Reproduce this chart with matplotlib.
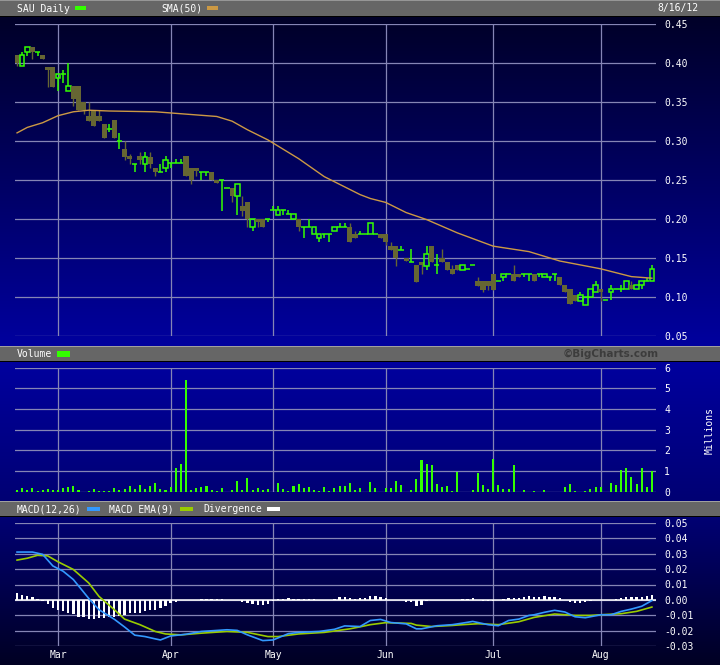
import matplotlib
matplotlib.use("Agg")
import matplotlib.pyplot as plt
from matplotlib.patches import Rectangle
import numpy as np

# --- data (one entry per trading day, Feb 17 .. Aug 15/16 2012) ---
month_labels = ['Mar', 'Apr', 'May', 'Jun', 'Jul', 'Aug']
month_idx = [8, 30, 50, 72, 93, 114]

opens = [
    .410, .395, .414, .420, .414, .410, .394, .394, .380, .385,
    .364, .370, .370, .350, .331, .339, .331, .321, .315, .326,
    .300, .290, .281, .270, .281, .270, .279, .265, .260, .265,
    .271, .271, .271, .280, .265, .265, .260, .260, .260, .250,
    .250, .240, .240, .229, .216, .221, .190, .200, .200, .200,
    .211, .205, .211, .206, .200, .200, .190, .190, .180, .175,
    .180, .180, .184, .190, .190, .190, .180, .180, .180, .180,
    .180, .180, .180, .165, .165, .160, .150, .145, .141, .145,
    .140, .165, .141, .150, .145, .136, .141, .135, .136, .141,
    .121, .121, .121, .130, .120, .125, .130, .130, .130, .130,
    .130, .130, .130, .125, .125, .130, .125, .115, .110, .102,
    .095, .090, .100, .106, .110, .096, .106, .110, .110, .110,
    .115, .110, .115, .120, .120]
highs = [
    .410, .414, .420, .420, .414, .410, .394, .394, .385, .391,
    .400, .370, .370, .350, .350, .339, .339, .321, .321, .326,
    .310, .300, .283, .270, .285, .285, .285, .265, .270, .281,
    .271, .276, .276, .280, .265, .265, .260, .260, .260, .250,
    .250, .240, .240, .245, .229, .221, .200, .200, .200, .200,
    .216, .216, .211, .211, .206, .200, .190, .200, .190, .180,
    .180, .180, .190, .195, .195, .195, .184, .184, .180, .195,
    .180, .180, .180, .170, .165, .165, .150, .161, .141, .145,
    .165, .165, .155, .161, .145, .141, .141, .141, .136, .141,
    .125, .121, .121, .130, .120, .130, .130, .141, .130, .130,
    .130, .130, .130, .130, .125, .130, .125, .115, .110, .102,
    .106, .100, .110, .121, .110, .096, .115, .110, .115, .120,
    .120, .115, .120, .124, .141]
lows = [
    .395, .395, .409, .404, .409, .404, .369, .369, .364, .374,
    .364, .344, .339, .334, .325, .319, .325, .304, .311, .304,
    .289, .275, .270, .260, .270, .260, .265, .255, .260, .260,
    .265, .271, .271, .255, .244, .255, .250, .255, .250, .246,
    .210, .240, .221, .205, .203, .190, .184, .190, .190, .196,
    .211, .205, .205, .206, .200, .184, .175, .190, .180, .170,
    .175, .170, .184, .190, .190, .170, .175, .180, .180, .180,
    .180, .175, .166, .160, .140, .160, .146, .145, .119, .129,
    .135, .145, .129, .145, .135, .129, .135, .135, .136, .141,
    .114, .106, .109, .109, .120, .120, .130, .120, .125, .125,
    .120, .120, .125, .125, .120, .120, .115, .106, .091, .095,
    .095, .090, .100, .106, .095, .096, .096, .110, .106, .110,
    .110, .110, .110, .120, .120]
closes = [
    .400, .410, .420, .414, .414, .404, .390, .369, .385, .385,
    .370, .354, .339, .339, .325, .319, .325, .304, .315, .304,
    .300, .279, .277, .270, .275, .279, .270, .260, .260, .275,
    .271, .271, .271, .255, .250, .261, .260, .260, .250, .246,
    .250, .240, .229, .245, .210, .200, .200, .196, .190, .200,
    .211, .211, .211, .206, .206, .190, .190, .190, .190, .180,
    .180, .180, .190, .190, .190, .170, .175, .180, .180, .195,
    .180, .175, .170, .160, .150, .160, .146, .145, .119, .141,
    .155, .145, .141, .145, .135, .129, .135, .141, .136, .141,
    .114, .109, .114, .109, .120, .130, .130, .120, .125, .130,
    .130, .120, .130, .130, .125, .130, .115, .106, .091, .095,
    .102, .100, .110, .115, .106, .096, .110, .110, .110, .120,
    .110, .115, .120, .120, .136]

sma_x = [0, 2, 5, 8, 11, 14, 18, 27, 33, 39, 42, 45, 49, 55, 60, 67, 69, 72,
         76, 80, 86, 93, 100, 106, 114, 120, 124]
sma_y = [0.310, 0.317, 0.323, 0.332, 0.337, 0.339, 0.338, 0.337, 0.334, 0.331,
         0.325, 0.314, 0.301, 0.277, 0.254, 0.231, 0.226, 0.221, 0.208, 0.199,
         0.182, 0.165, 0.158, 0.146, 0.136, 0.126, 0.124]

# volume in millions
volume = [
    0.08, 0.18, 0.08, 0.18, 0.03, 0.08, 0.13, 0.08, 0.08, 0.18,
    0.23, 0.27, 0.08, 0.00, 0.03, 0.13, 0.03, 0.03, 0.03, 0.18,
    0.08, 0.13, 0.27, 0.13, 0.32, 0.13, 0.27, 0.42, 0.13, 0.08,
    0.23, 1.15, 1.34, 5.40, 0.08, 0.18, 0.23, 0.27, 0.08, 0.03,
    0.18, 0.00, 0.08, 0.52, 0.08, 0.66, 0.08, 0.18, 0.08, 0.13,
    0.00, 0.42, 0.13, 0.03, 0.27, 0.37, 0.18, 0.23, 0.08, 0.03,
    0.23, 0.03, 0.18, 0.27, 0.27, 0.42, 0.08, 0.18, 0.00, 0.47,
    0.18, 0.00, 0.18, 0.18, 0.52, 0.32, 0.00, 0.08, 0.61, 1.53,
    1.34, 1.29, 0.37, 0.23, 0.27, 0.03, 0.95, 0.00, 0.00, 0.08,
    0.90, 0.32, 0.13, 1.58, 0.32, 0.13, 0.13, 1.29, 0.00, 0.08,
    0.00, 0.03, 0.00, 0.08, 0.00, 0.00, 0.00, 0.23, 0.37, 0.03,
    0.00, 0.03, 0.13, 0.23, 0.23, 0.00, 0.42, 0.32, 1.05, 1.15,
    0.71, 0.37, 1.15, 0.23, 1.00]

macd_x = [0, 3, 5, 7, 9, 11, 14, 16, 19, 21, 23, 25, 27, 28, 30, 33, 36, 41, 43, 45,
          48, 50, 53, 55, 59, 62, 64, 67, 69, 71, 73, 76, 78, 79, 82, 85, 87, 89, 92, 94,
          96, 98, 100, 101, 103, 105, 107, 109, 111, 114, 116, 118, 120, 122, 124]
macd_y = [0.0310, 0.0310, 0.0295, 0.0220, 0.0186, 0.0132, 0.0010, -0.0063, -0.0125, -0.0175,
          -0.0228, -0.0237, -0.0252, -0.0259, -0.0233, -0.0222, -0.0204, -0.0193, -0.0197, -0.0226,
          -0.0263, -0.0259, -0.0218, -0.0210, -0.0204, -0.0190, -0.0168, -0.0172, -0.0133, -0.0126,
          -0.0146, -0.0155, -0.0187, -0.0187, -0.0167, -0.0160, -0.0150, -0.0139, -0.0160, -0.0167,
          -0.0133, -0.0124, -0.0100, -0.0096, -0.0080, -0.0067, -0.0078, -0.0109, -0.0115, -0.0096,
          -0.0096, -0.0074, -0.0059, -0.0041, -0.0004]

ema_x = [0, 2, 4, 6, 8, 11, 14, 16, 19, 21, 24, 27, 29, 32, 36, 41, 45, 49, 51, 55,
         60, 65, 67, 69, 72, 75, 77, 78, 81, 85, 87, 90, 94, 98, 101, 105, 109, 112, 114, 118,
         121, 124]
ema_y = [0.0258, 0.0270, 0.0289, 0.0285, 0.0247, 0.0197, 0.0110, 0.0023, -0.0063, -0.0124,
         -0.0160, -0.0204, -0.0220, -0.0226, -0.0215, -0.0204, -0.0210, -0.0237, -0.0237, -0.0220,
         -0.0210, -0.0187, -0.0174, -0.0160, -0.0147, -0.0150, -0.0152, -0.0163, -0.0172, -0.0165,
         -0.0160, -0.0154, -0.0160, -0.0141, -0.0113, -0.0091, -0.0100, -0.0100, -0.0096, -0.0089,
         -0.0074, -0.0046]

divergence = [
    0.0048, 0.0033, 0.0026, 0.0022, 0.0009, -0.0007, -0.0028, -0.0054, -0.0065, -0.0072,
    -0.0083, -0.0093, -0.0108, -0.0113, -0.0124, -0.0126, -0.0120, -0.0115, -0.0113, -0.0108,
    -0.0104, -0.0098, -0.0087, -0.0087, -0.0083, -0.0072, -0.0065, -0.0065, -0.0054, -0.0039,
    -0.0022, -0.0011, 0, 0, 0, 0, 0.0009, 0.0009, 0.0009, 0.0009,
    0.0004, 0, 0, 0, -0.0011, -0.0022, -0.0028, -0.0033, -0.0035, -0.0028,
    -0.0007, 0.0004, 0.0009, 0.0015, 0.0009, 0.0009, 0.0009, 0.0009, 0.0009, 0,
    0, 0, 0.0009, 0.0020, 0.0020, 0.0013, 0.0009, 0.0015, 0.0015, 0.0028,
    0.0028, 0.0022, 0.0015, 0, 0, 0, -0.0013, -0.0013, -0.0037, -0.0030,
    -0.0009, 0, 0, 0, 0, 0, 0, 0.0009, 0.0009, 0.0015,
    0, -0.0009, -0.0009, -0.0009, 0, 0.0009, 0.0015, 0.0015, 0.0015, 0.0022,
    0.0028, 0.0022, 0.0022, 0.0028, 0.0022, 0.0022, 0.0015, 0, -0.0013, -0.0022,
    -0.0022, -0.0013, -0.0009, 0, 0, 0, 0, 0.0009, 0.0015, 0.0022,
    0.0022, 0.0022, 0.0022, 0.0028, 0.0035]

price_ticks = [0.05, 0.10, 0.15, 0.20, 0.25, 0.30, 0.35, 0.40, 0.45]
vol_ticks = [0, 1, 2, 3, 4, 5, 6]
macd_ticks = [-0.03, -0.02, -0.01, 0.00, 0.01, 0.02, 0.03, 0.04, 0.05]

# --- styling ---
W, H = 720, 665
GREEN = '#33ff00'
OLIVE = '#666633'
TAN = '#cc9944'
BLUE = '#3399ff'
YGREEN = '#99cc00'
GRID = '#8585b5'
MONO = 'DejaVu Sans Mono'

fig = plt.figure(figsize=(W / 100, H / 100), dpi=100)

# background bands (panel gradients and grey title bars)
bg = np.zeros((H, 1, 3))


def band(y0, y1, top, bottom):
    t = np.linspace(0, 1, y1 - y0)[:, None]
    bg[y0:y1, 0, :] = (np.array(top) * (1 - t) + np.array(bottom) * t) / 255.0


gray = (102, 102, 102)
band(0, 17, gray, gray)
band(17, 346, (0, 0, 40), (0, 0, 158))
band(346, 362, gray, gray)
band(362, 501, (0, 0, 158), (0, 0, 115))
band(501, 517, gray, gray)
band(517, H, (0, 0, 115), (0, 0, 35))
for row, c in [(0, 150), (16, 0), (346, 160), (361, 0), (501, 160), (516, 0)]:
    bg[row, 0, :] = c / 255.0

bg_ax = fig.add_axes([0, 0, 1, 1], zorder=0)
bg_ax.imshow(bg, aspect='auto', extent=(0, 1, 0, 1), interpolation='nearest')
bg_ax.axis('off')


def fx(x):
    return x / W


def fy(y):
    return 1 - y / H


def swatch(x0, y0, x1, y1, color):
    fig.patches.append(Rectangle((fx(x0), fy(y1)), (x1 - x0) / W, (y1 - y0) / H,
                                 transform=fig.transFigure, facecolor=color,
                                 edgecolor='none', zorder=5))


def label(x, y, s, **kw):
    kw.setdefault('color', 'white')
    kw.setdefault('family', MONO)
    kw.setdefault('fontsize', 7)
    fig.text(fx(x), fy(y), s, va='center', zorder=6, **kw)


# header texts
label(17, 8.5, 'SAU Daily')
swatch(75, 6.5, 86, 10, GREEN)
label(161, 8.5, 'SMA(50)')
swatch(207, 6.5, 218, 10, TAN)
label(698, 8.5, '8/16/12', ha='right')

label(17, 354, 'Volume')
swatch(57, 351, 70, 357, GREEN)
label(659, 353.5, '\u00a9BigCharts.com', ha='right', color='#3c3c3c',
      family='DejaVu Sans', fontweight='bold', fontsize=7.5)

label(17, 509, 'MACD(12,26)')
swatch(87, 506.5, 100, 510.5, BLUE)
label(109, 509, 'MACD EMA(9)')
swatch(180, 506.5, 193, 510.5, YGREEN)
label(203, 509, 'Divergence')
swatch(267, 506.5, 280, 510.5, 'white')

label(710, 431, 'Millions', rotation=90, ha='center')

left, width = fx(15), 641 / W
ax_p = fig.add_axes([left, fy(336), width, (336 - 23.5) / H], zorder=2)
ax_v = fig.add_axes([left, fy(491.7), width, (491.7 - 367.7) / H], zorder=2)
ax_m = fig.add_axes([left, fy(646.3), width, (646.3 - 522.7) / H], zorder=2)

for ax in (ax_p, ax_v, ax_m):
    ax.set_facecolor('none')
    for s in ax.spines.values():
        s.set_visible(False)
    ax.set_xlim(-0.4, 124.8)
    ax.set_xticks(month_idx)
    ax.grid(True, color=GRID, lw=0.9)
    ax.set_axisbelow(True)
    ax.yaxis.tick_right()
    ax.tick_params(length=0, labelcolor='white', labelsize=7, pad=5.8)
    for t in ax.get_yticklabels():
        t.set_family(MONO)

ax_p.set_xticklabels([])
ax_v.set_xticklabels([])
ax_m.set_xticklabels(month_labels, family=MONO)
ax_m.tick_params(axis='x', pad=2.5)

# price panel
ax_p.set_ylim(0.05, 0.45)
ax_p.set_yticks(price_ticks, labels=[f'{v:.2f}' for v in price_ticks], family=MONO)
bw = 0.9
for i, (o, h, l, c) in enumerate(zip(opens, highs, lows, closes)):
    if c > o:
        ax_p.vlines(i, l, o, color=GREEN, lw=1.1, zorder=3)
        ax_p.vlines(i, c, h, color=GREEN, lw=1.1, zorder=3)
        ax_p.add_patch(Rectangle((i - bw / 2, o), bw, c - o, fill=False,
                                 edgecolor=GREEN, lw=1.1, zorder=4))
    elif c < o:
        ax_p.vlines(i, l, h, color=OLIVE, lw=1.0, zorder=3)
        ax_p.add_patch(Rectangle((i - 0.5, c), 1.0, o - c, facecolor=OLIVE,
                                 edgecolor='none', zorder=4))
    else:
        ax_p.vlines(i, l, h, color=GREEN, lw=1.1, zorder=3)
        ax_p.hlines(o, i - 0.5, i + 0.5, color=GREEN, lw=1.1, zorder=4)
ax_p.plot(sma_x, sma_y, color=TAN, lw=1.0, zorder=5)

# volume panel
ax_v.set_ylim(0, 6)
ax_v.set_yticks(vol_ticks, labels=[str(v) for v in vol_ticks], family=MONO)
ax_v.bar(range(len(volume)), volume, width=0.4, color=GREEN, zorder=3)

# MACD panel
ax_m.set_ylim(-0.03, 0.05)
ax_m.set_yticks(macd_ticks, labels=[f'{v:.2f}' for v in macd_ticks], family=MONO)
ax_m.bar(range(len(divergence)), divergence, width=0.45, color='white', zorder=3)
ax_m.axhline(0, color='white', lw=1.1, zorder=3)
ax_m.plot(ema_x, ema_y, color=YGREEN, lw=1.2, zorder=4)
ax_m.plot(macd_x, macd_y, color=BLUE, lw=1.2, zorder=5)

fig.savefig('out.png', dpi=100)
